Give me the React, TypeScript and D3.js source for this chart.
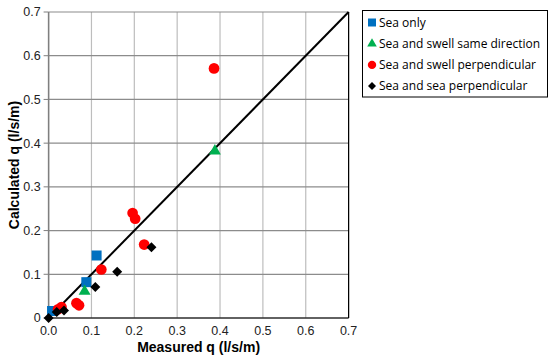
import React from 'react'
import * as d3 from 'd3'

// measured vs calculated overtopping, per wave condition
const seaOnlyX = [0.008, 0.088, 0.112]
const seaOnlyY = [0.016, 0.082, 0.143]

const sameDirX = [0.084, 0.388]
const sameDirY = [0.061, 0.382]

const swellPerpX = [0.022, 0.03, 0.065, 0.071, 0.123, 0.196, 0.202, 0.223, 0.386]
const swellPerpY = [0.02, 0.025, 0.034, 0.029, 0.111, 0.24, 0.227, 0.168, 0.571]

const seaPerpX = [0, 0.019, 0.036, 0.109, 0.16, 0.24]
const seaPerpY = [0, 0.014, 0.017, 0.071, 0.106, 0.162]

const xTicks = ['0.0', '0.1', '0.2', '0.3', '0.4', '0.5', '0.6', '0.7']
const yTicks = ['0', '0.1', '0.2', '0.3', '0.4', '0.5', '0.6', '0.7']

const legendLabels = [
    'Sea only',
    'Sea and swell same direction',
    'Sea and swell perpendicular',
    'Sea and sea perpendicular'
]

const W = 550
const H = 364
const left = 48.6
const right = 348.6
const top = 12
const bottom = 318

const x = d3.scaleLinear().domain([0, 0.7]).range([left, right])
const y = d3.scaleLinear().domain([0, 0.7]).range([bottom, top])

const symSquare = d3.symbol().type(d3.symbolSquare).size(100)()
const symTri = d3.symbol().type(d3.symbolTriangle).size(62)()
const symCircle = d3.symbol().type(d3.symbolCircle).size(90)()
const symDiamond = d3.symbol().type(d3.symbolSquare).size(50)()

const series = [
    { xs: seaOnlyX, ys: seaOnlyY, path: symSquare, color: '#0070C0', rot: 0 },
    { xs: sameDirX, ys: sameDirY, path: symTri, color: '#00B050', rot: 0 },
    { xs: swellPerpX, ys: swellPerpY, path: symCircle, color: '#FF0000', rot: 0 },
    { xs: seaPerpX, ys: seaPerpY, path: symDiamond, color: '#000000', rot: 45 }
]

const legendSym = [
    d3.symbol().type(d3.symbolSquare).size(64)(),
    d3.symbol().type(d3.symbolTriangle).size(40)(),
    d3.symbol().type(d3.symbolCircle).size(55)(),
    d3.symbol().type(d3.symbolSquare).size(32)()
]

function App() {
    const font = 'Liberation Sans, Arial, sans-serif'
    return (
        <svg width={W} height={H} style={{ position: 'absolute', left: 0, top: 0, background: '#fff' }}>
            <rect width={W} height={H} fill="#fff" />
            {xTicks.map((t, i) => (
                <line key={'vx' + i} x1={x(i / 10)} x2={x(i / 10)} y1={top} y2={bottom} stroke="#bdbdbd" strokeWidth={1.2} />
            ))}
            {yTicks.map((t, i) => (
                <line key={'hy' + i} x1={left} x2={right} y1={y(i / 10)} y2={y(i / 10)} stroke="#8c8c8c" strokeWidth={1.2} />
            ))}
            <line x1={left} x2={left} y1={top} y2={bottom} stroke="#7f7f7f" strokeWidth={1.5} />
            <line x1={right} x2={right} y1={top} y2={bottom} stroke="#000" strokeWidth={1.2} />
            <line x1={left} x2={right} y1={bottom} y2={bottom} stroke="#000" strokeWidth={1.2} />
            {yTicks.map((t, i) => (
                <g key={'yt' + i}>
                    <line x1={left - 5} x2={left} y1={y(i / 10)} y2={y(i / 10)} stroke="#7f7f7f" />
                    <text x={left - 8} y={y(i / 10)} dy="0.35em" textAnchor="end" fontFamily={font} fontSize={12.5} fill="#222">{t}</text>
                </g>
            ))}
            {xTicks.map((t, i) => (
                <text key={'xt' + i} x={x(i / 10)} y={bottom + 17} textAnchor="middle" fontFamily={font} fontSize={12.5} fill="#222">{t}</text>
            ))}
            <line x1={x(0)} y1={y(0)} x2={x(0.7)} y2={y(0.7)} stroke="#000" strokeWidth={2} />
            {series.map((s, si) => s.xs.map((v, i) => (
                <path key={si + '-' + i} d={s.path} fill={s.color} transform={`translate(${x(v)},${y(s.ys[i])}) rotate(${s.rot})`} />
            )))}
            <text x={(left + right) / 2} y={352} textAnchor="middle" fontFamily={font} fontSize={14} fontWeight="bold">Measured q (l/s/m)</text>
            <text transform={`translate(19,${(top + bottom) / 2}) rotate(-90)`} textAnchor="middle" fontFamily={font} fontSize={14} fontWeight="bold">Calculated q (l/s/m)</text>
            <rect x={362.5} y={10.5} width={185} height={86.5} fill="#fff" stroke="#000" strokeWidth={1} />
            {legendLabels.map((l, i) => (
                <g key={'lg' + i} transform={`translate(0,${22.5 + i * 21.2})`}>
                    <path d={legendSym[i]} fill={series[i].color} transform={`translate(372,0) rotate(${series[i].rot})`} />
                    <text x={379} y={0} dy="0.35em" fontFamily="Open Sans, sans-serif" fontSize={12} textLength={i === 1 ? 161 : undefined}>{l}</text>
                </g>
            ))}
        </svg>
    )
}
export default App
